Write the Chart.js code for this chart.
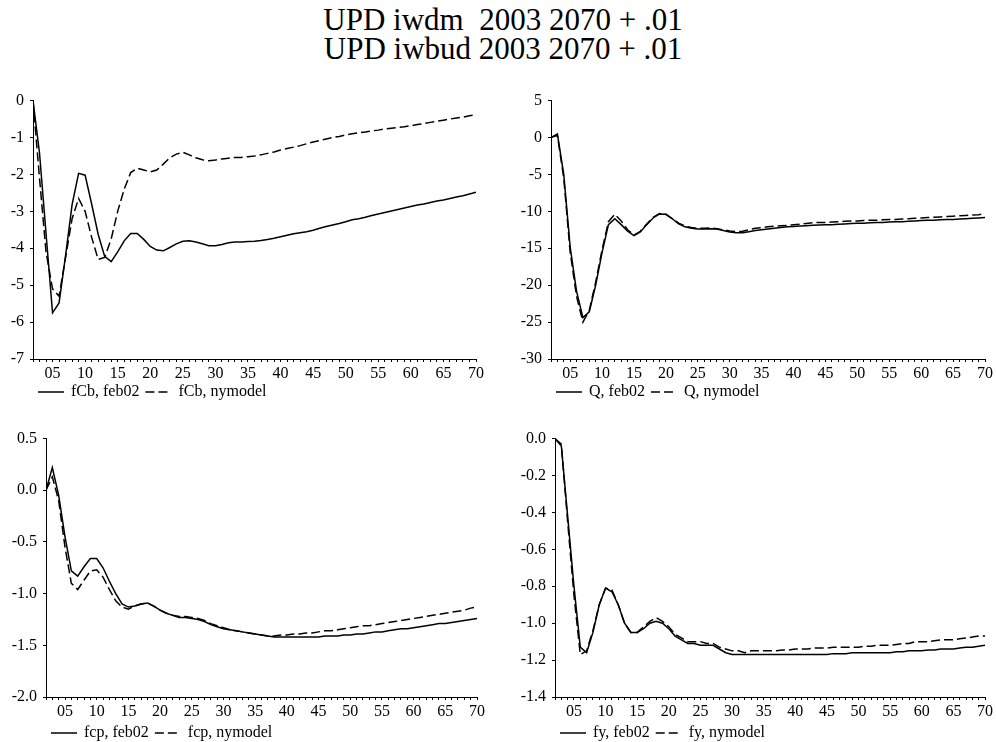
<!DOCTYPE html>
<html><head><meta charset="utf-8">
<script src="https://cdn.jsdelivr.net/npm/chart.js@4/dist/chart.umd.min.js"></script>
<style>
html,body{margin:0;padding:0;background:#fff;width:996px;height:742px;overflow:hidden;position:relative;}
#title{position:absolute;left:0;top:5px;width:1006px;text-align:center;font-family:"Liberation Serif","Times New Roman",serif;font-size:31px;line-height:29px;white-space:pre;color:#000;}
.panel{position:absolute;}
</style></head><body>
<div id="title">UPD iwdm  2003 2070 + .01
UPD iwbud 2003 2070 + .01</div>
<div class="panel" style="left:0px;top:85px;"><canvas id="c1" width="488" height="324"></canvas></div>
<div class="panel" style="left:511px;top:85px;"><canvas id="c2" width="484" height="324"></canvas></div>
<div class="panel" style="left:6px;top:423px;"><canvas id="c3" width="483" height="319"></canvas></div>
<div class="panel" style="left:515px;top:423px;"><canvas id="c4" width="480" height="319"></canvas></div>
<script>
// Years 2002..2070
const years = [];
for (let y = 2002; y <= 2070; y++) years.push(y);

const fCbFeb02 = [
  0, -1.42, -3.6, -5.75, -5.48, -4.2, -2.82, -1.97, -2.02, -2.8,      // 2002-2011
  -3.62, -4.22, -4.36, -4.1, -3.8, -3.6, -3.6, -3.76, -3.95, -4.05,    // 2012-2021
  -4.07, -3.98, -3.88, -3.81, -3.8, -3.83, -3.88, -3.93, -3.93, -3.9,  // 2022-2031
  -3.85, -3.83, -3.83, -3.82, -3.81, -3.79, -3.76, -3.73, -3.69, -3.65,// 2032-2041
  -3.61, -3.58, -3.55, -3.51, -3.46, -3.41, -3.37, -3.33, -3.28, -3.23,// 2042-2051
  -3.2, -3.16, -3.11, -3.07, -3.03, -2.99, -2.95, -2.91, -2.87, -2.83, // 2052-2061
  -2.8, -2.76, -2.72, -2.69, -2.65, -2.61, -2.58, -2.53, -2.48         // 2062-2070
];
const fCbNymodel = [
  0, -2.1, -4.1, -5.1, -5.3, -4.25, -3.2, -2.65, -3.0, -3.7,
  -4.3, -4.25, -3.75, -3.0, -2.4, -1.95, -1.83, -1.88, -1.93, -1.88,
  -1.72, -1.55, -1.45, -1.4, -1.47, -1.55, -1.6, -1.63, -1.61, -1.58,
  -1.56, -1.54, -1.54, -1.52, -1.5, -1.47, -1.43, -1.39, -1.34, -1.3,
  -1.26, -1.22, -1.17, -1.12, -1.08, -1.04, -1.0, -0.97, -0.93, -0.9,
  -0.87, -0.85, -0.82, -0.8, -0.77, -0.75, -0.73, -0.71, -0.68, -0.65,
  -0.62, -0.59, -0.56, -0.53, -0.5, -0.47, -0.45, -0.41, -0.38
];
const QFeb02 = [
  0, 0.5, -5.0, -14.8, -20.8, -24.4, -23.6, -20.0, -15.6, -11.8,
  -11.0, -11.8, -12.7, -13.3, -12.8, -11.8, -10.9, -10.35, -10.4, -11.0,
  -11.7, -12.1, -12.3, -12.4, -12.4, -12.35, -12.4, -12.6, -12.8, -12.9,
  -12.9, -12.75, -12.6, -12.5, -12.4, -12.3, -12.2, -12.1, -12.05, -12.0,
  -11.95, -11.9, -11.85, -11.8, -11.8, -11.75, -11.7, -11.65, -11.6, -11.6,
  -11.55, -11.5, -11.5, -11.45, -11.4, -11.4, -11.35, -11.3, -11.25, -11.2,
  -11.2, -11.15, -11.1, -11.1, -11.05, -11.0, -10.95, -10.9, -10.85
];
const QNymodel = [
  0, 0.3, -5.5, -15.5, -21.5, -25.0, -23.4, -19.6, -15.2, -11.4,
  -10.4, -11.3, -12.5, -13.2, -12.7, -11.7, -10.8, -10.3, -10.4, -11.0,
  -11.6, -12.0, -12.2, -12.3, -12.3, -12.25, -12.35, -12.5, -12.65, -12.75,
  -12.7, -12.5, -12.3, -12.2, -12.1, -12.0, -11.95, -11.9, -11.8, -11.75,
  -11.65, -11.55, -11.5, -11.5, -11.45, -11.4, -11.35, -11.3, -11.3, -11.25,
  -11.2, -11.2, -11.15, -11.1, -11.1, -11.05, -11.0, -10.95, -10.9, -10.85,
  -10.8, -10.75, -10.7, -10.65, -10.6, -10.55, -10.5, -10.45, -10.35
];
const fcpFeb02 = [
  0.0, 0.22, -0.05, -0.45, -0.78, -0.83, -0.74, -0.66, -0.66, -0.75,
  -0.88, -1.0, -1.1, -1.13, -1.12, -1.1, -1.09, -1.12, -1.16, -1.19,
  -1.21, -1.23, -1.23, -1.24, -1.25, -1.27, -1.3, -1.32, -1.34, -1.35,
  -1.36, -1.37, -1.38, -1.39, -1.4, -1.41, -1.42, -1.42, -1.42, -1.42,
  -1.42, -1.42, -1.42, -1.42, -1.41, -1.41, -1.41, -1.4, -1.4, -1.39,
  -1.39, -1.38, -1.37, -1.37, -1.36, -1.35, -1.34, -1.34, -1.33, -1.32,
  -1.31, -1.3, -1.29, -1.29, -1.28, -1.27, -1.26, -1.25, -1.24
];
const fcpNymodel = [
  0.0, 0.13, -0.1, -0.55, -0.9, -0.96, -0.87, -0.78, -0.77, -0.84,
  -0.96, -1.07, -1.13, -1.15, -1.12, -1.1, -1.09, -1.12, -1.16, -1.19,
  -1.21, -1.22, -1.22, -1.23, -1.24, -1.26, -1.29, -1.31, -1.33, -1.35,
  -1.36, -1.37, -1.38, -1.39, -1.4, -1.41, -1.41, -1.4, -1.4, -1.39,
  -1.39, -1.38, -1.38, -1.37, -1.36, -1.36, -1.35, -1.34, -1.33, -1.32,
  -1.31, -1.31, -1.3, -1.29, -1.28, -1.27, -1.26, -1.25, -1.24, -1.23,
  -1.22, -1.21, -1.2, -1.19, -1.18, -1.17, -1.16, -1.14, -1.13
];
const fyFeb02 = [
  0, -0.04, -0.42, -0.8, -1.13, -1.16, -1.05, -0.9, -0.81, -0.83,
  -0.9, -1.0, -1.05, -1.05, -1.03, -1.0, -0.99, -1.0, -1.03, -1.07,
  -1.09, -1.11, -1.11, -1.12, -1.12, -1.12, -1.14, -1.16, -1.17, -1.17,
  -1.17, -1.17, -1.17, -1.17, -1.17, -1.17, -1.17, -1.17, -1.17, -1.17,
  -1.17, -1.17, -1.17, -1.17, -1.165, -1.165, -1.165, -1.16, -1.16, -1.16,
  -1.16, -1.16, -1.16, -1.16, -1.155, -1.155, -1.15, -1.15, -1.15, -1.145,
  -1.145, -1.14, -1.14, -1.14, -1.135, -1.13, -1.13, -1.125, -1.12
];
const fyNymodel = [
  0, -0.03, -0.45, -0.85, -1.17, -1.15, -1.04, -0.9, -0.81, -0.82,
  -0.9, -1.0, -1.05, -1.05, -1.02, -0.99, -0.97, -0.99, -1.02, -1.06,
  -1.08, -1.1, -1.1, -1.1, -1.11, -1.11, -1.13, -1.14, -1.15, -1.15,
  -1.16, -1.15, -1.15, -1.15, -1.15, -1.15, -1.145, -1.145, -1.14, -1.14,
  -1.14, -1.135, -1.135, -1.135, -1.13, -1.13, -1.13, -1.13, -1.13, -1.125,
  -1.125, -1.12, -1.12, -1.12, -1.115, -1.11, -1.11, -1.1, -1.1, -1.1,
  -1.095, -1.09, -1.09, -1.09, -1.085, -1.08, -1.075, -1.07, -1.07
];

const FONT = 'Liberation Serif';

const lineLegend = {
  id: 'lineLegend',
  afterDraw(chart, args, opts) {
    const ctx = chart.ctx, a = chart.chartArea;
    const y = a.bottom + opts.offset;
    let x = a.left + 5;
    ctx.save();
    ctx.font = '16px "' + FONT + '"';
    ctx.fillStyle = '#000';
    ctx.strokeStyle = '#000';
    ctx.lineWidth = 1.5;
    ctx.textBaseline = 'middle';
    ctx.textAlign = 'left';
    chart.data.datasets.forEach(ds => {
      ctx.setLineDash(ds.borderDash || []);
      ctx.beginPath();
      ctx.moveTo(x, y);
      ctx.lineTo(x + 26, y);
      ctx.stroke();
      x += 26 + 7;
      ctx.fillText(ds.label, x, y);
      x += ctx.measureText(ds.label).width + 6;
    });
    ctx.restore();
  }
};

function makePanel(id, cfg) {
  const pts = arr => arr.map((v, i) => ({ x: years[i], y: v }));
  new Chart(document.getElementById(id), {
    type: 'line',
    data: {
      datasets: [
        { label: cfg.names[0], data: pts(cfg.solid), borderColor: '#000', borderWidth: 1.5, pointRadius: 0, tension: 0, fill: false },
        { label: cfg.names[1], data: pts(cfg.dashed), borderColor: '#000', borderWidth: 1.5, borderDash: [9, 4], pointRadius: 0, tension: 0, fill: false }
      ]
    },
    options: {
      responsive: false,
      animation: false,
      devicePixelRatio: 1,
      layout: { padding: { top: 12, right: cfg.padRight, bottom: 0, left: 0 } },
      plugins: {
        legend: { display: false },
        tooltip: { enabled: false },
        lineLegend: { offset: cfg.legendOffset }
      },
      scales: {
        x: {
          type: 'linear', min: 2002, max: 2070,
          ticks: {
            stepSize: 1, autoSkip: false, maxRotation: 0, minRotation: 0, padding: 2,
            color: '#000', font: { family: FONT, size: 16 },
            callback: v => { const r = Math.round(v); return r % 5 === 0 ? String(r % 100).padStart(2, '0') : ''; }
          },
          grid: { drawOnChartArea: false, tickLength: 3, color: '#000', tickColor: '#000' },
          border: { display: true, color: '#000', width: 1 },
          afterFit: s => { s.height = cfg.xh; }
        },
        y: {
          min: cfg.yMin, max: cfg.yMax,
          ticks: {
            stepSize: cfg.yStep, padding: 6, color: '#000', font: { family: FONT, size: 16 },
            callback: v => { if (Math.abs(v) < 1e-9) v = 0; return cfg.dec ? v.toFixed(cfg.dec) : String(Math.round(v)); }
          },
          grid: { drawOnChartArea: false, tickLength: 3, color: '#000', tickColor: '#000' },
          border: { display: true, color: '#000', width: 1 },
          afterFit: s => { s.width = cfg.yw; }
        }
      }
    },
    plugins: [lineLegend]
  });
}

makePanel('c1', { solid: fCbFeb02, dashed: fCbNymodel, names: ['fCb, feb02', 'fCb, nymodel'],
  yMin: -7, yMax: 0, yStep: 1, dec: 0, yw: 33, padRight: 12, xh: 50, legendOffset: 33 });
makePanel('c2', { solid: QFeb02, dashed: QNymodel, names: ['Q, feb02', 'Q, nymodel'],
  yMin: -30, yMax: 5, yStep: 5, dec: 0, yw: 40, padRight: 8, xh: 50, legendOffset: 33 });
makePanel('c3', { solid: fcpFeb02, dashed: fcpNymodel, names: ['fcp, feb02', 'fcp, nymodel'],
  yMin: -2, yMax: 0.5, yStep: 0.5, dec: 1, yw: 40, padRight: 12, xh: 45, legendOffset: 36 });
makePanel('c4', { solid: fyFeb02, dashed: fyNymodel, names: ['fy, feb02', 'fy, nymodel'],
  yMin: -1.4, yMax: 0, yStep: 0.2, dec: 1, yw: 40, padRight: 8, xh: 45, legendOffset: 36 });
</script>
</body></html>
